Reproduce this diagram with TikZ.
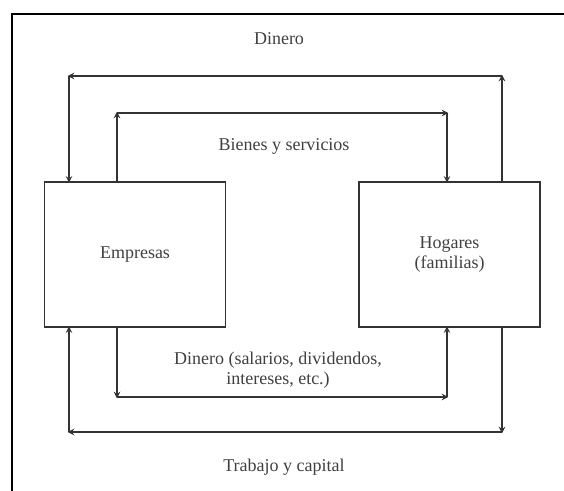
\documentclass[tikz,border=0pt]{standalone}
\usepackage{fontspec}
\setmainfont{Liberation Serif}
\begin{document}
\begin{tikzpicture}[x=0.75pt, y=-0.75pt, >=stealth, font=\fontsize{13.5}{15}\selectfont,
    box/.style={draw=black!80, line width=0.9pt, minimum width=135.75pt, minimum height=108.75pt, align=center, text=black!75},
    flow/.style={->, draw=black!80, line width=1.2pt, shorten >=-1pt},
    lbl/.style={align=center, text=black!75}]
    \useasboundingbox (0,0) rectangle (564,491);
    % Frame
    \draw[line width=1pt] (12,491) -- (12,14) -- (564,14);

    % Boxes
    \node[box] (emp) at (135,254.5) {Empresas};
    \node[box] (hog) at (449.5,254.5) {Hogares\\(familias)};

    % Corners
    \coordinate (dTR) at (502,76);
    \coordinate (dTL) at (69,76);
    \coordinate (bTL) at (117,113);
    \coordinate (bTR) at (447,113);
    \coordinate (sBL) at (117,397);
    \coordinate (sBR) at (447,397);
    \coordinate (tBR) at (502,432);
    \coordinate (tBL) at (69,432);

    % Dinero
    \draw[flow] (hog.north -| dTR) -- (dTR);
    \draw[flow] (dTR) -- (dTL);
    \draw[flow] (dTL) -- (emp.north -| dTL);

    % Bienes y servicios
    \draw[flow] (emp.north -| bTL) -- (bTL);
    \draw[flow] (bTL) -- (bTR);
    \draw[flow] (bTR) -- (hog.north -| bTR);

    % Dinero (salarios...)
    \draw[flow] (emp.south -| sBL) -- (sBL);
    \draw[flow] (sBL) -- (sBR);
    \draw[flow] (sBR) -- (hog.south -| sBR);

    % Trabajo y capital
    \draw[flow] (hog.south -| tBR) -- (tBR);
    \draw[flow] (tBR) -- (tBL);
    \draw[flow] (tBL) -- (emp.south -| tBL);

    % Labels
    \node[lbl] (dinero) at (279,39) {Dinero};
    \node[lbl] (bienes) at (284,146) {Bienes y servicios};
    \node[lbl] (salarios) at (278,370) {Dinero (salarios, dividendos,\\intereses, etc.)};
    \node[lbl] (trabajo) at (284,467) {Trabajo y capital};
\end{tikzpicture}
\end{document}
